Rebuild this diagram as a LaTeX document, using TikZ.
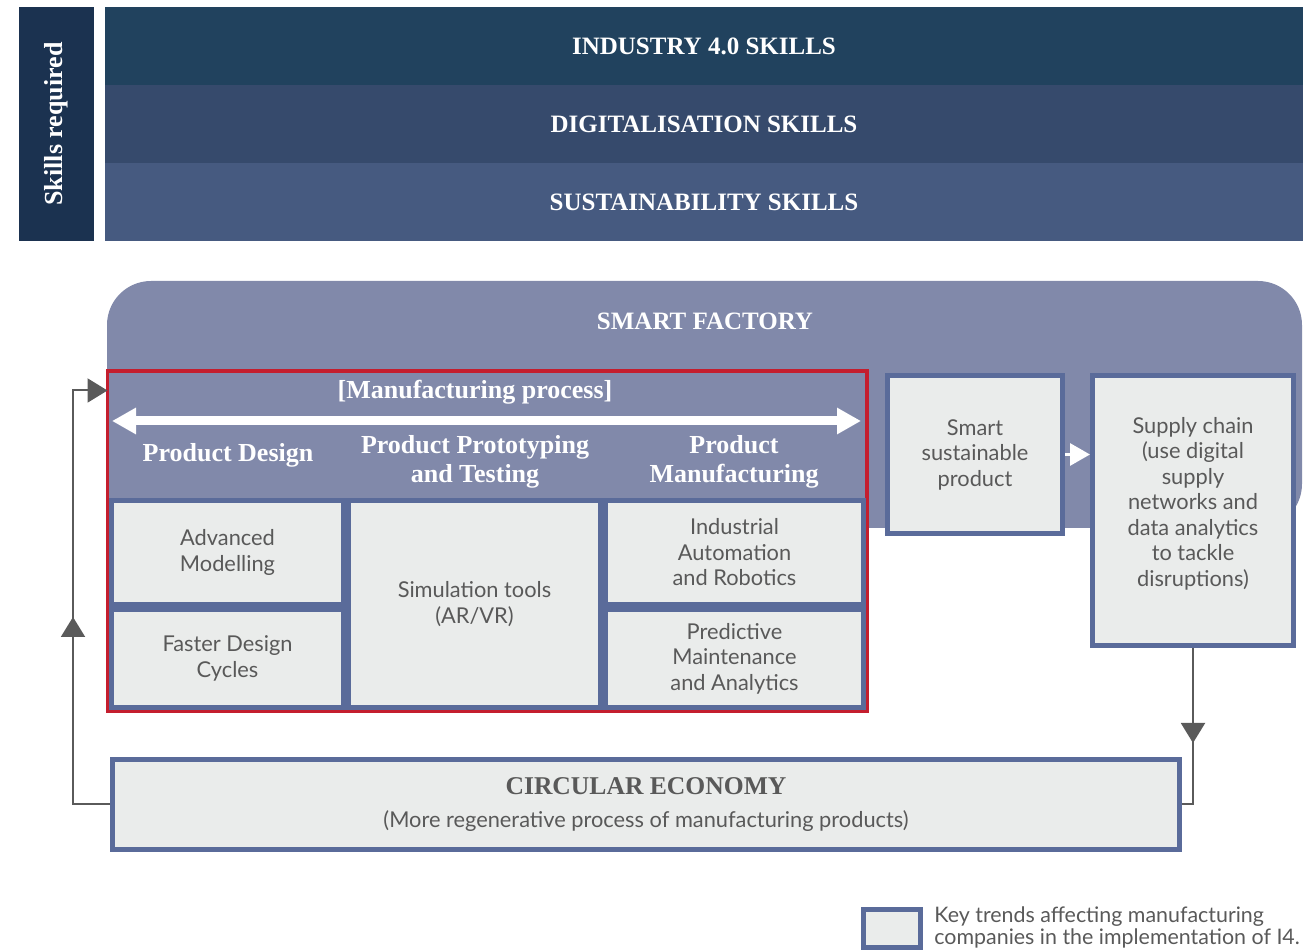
\documentclass[tikz,border=0pt]{standalone}
\usepackage{fontspec}
\setmainfont{Lato}
\newfontfamily\headfont{Liberation Serif}
\usetikzlibrary{arrows.meta}

\definecolor{navy}{HTML}{1B3250}
\definecolor{bandA}{HTML}{21425E}
\definecolor{bandB}{HTML}{364A6C}
\definecolor{bandC}{HTML}{465A80}
\definecolor{factory}{HTML}{8189AA}
\definecolor{cellblue}{HTML}{5A6B9A}
\definecolor{cellgray}{HTML}{EAECEB}
\definecolor{mred}{HTML}{C41E2E}
\definecolor{textgray}{HTML}{595959}
\definecolor{linkgray}{HTML}{5A5A5A}

\begin{document}
\begin{tikzpicture}[x=0.5pt,y=-0.5pt,
  band/.style={fill=#1, minimum width=599pt, minimum height=39pt, inner sep=0pt,
    text=white, font=\headfont\bfseries\fontsize{12.5}{15}\selectfont},
  cell/.style={draw=cellblue, line width=2.5pt, fill=cellgray, inner sep=0pt,
    align=center, text=textgray, font=\fontsize{10.9}{12.75}\selectfont},
  head/.style={text=white, align=center, inner sep=0pt,
    font=\headfont\bfseries\fontsize{13}{14.5}\selectfont},
  link/.style={draw=linkgray, line width=1pt},
  tip/.style={-{Triangle[length=10pt,width=12pt]}}
]
\useasboundingbox (0,0) rectangle (1303,951);

% skills
\node[fill=navy, rotate=90, minimum width=117pt, minimum height=37.5pt, inner sep=0pt,
  text=white, font=\headfont\bfseries\fontsize{13}{15}\selectfont] (skills) at (56.5,124) {Skills required};
\node[band=bandA] (ind) at (704,46) {INDUSTRY 4.0 SKILLS};
\node[band=bandB] (dig) at (704,124) {DIGITALISATION SKILLS};
\node[band=bandC] (sus) at (704,202) {SUSTAINABILITY SKILLS};

% smart factory
\fill[factory, rounded corners=22pt] (107,281) rectangle (1302,528);
\node[head, font=\headfont\bfseries\fontsize{12.5}{15}\selectfont] (sflbl) at (705,321) {SMART FACTORY};

% manufacturing process
\node[draw=mred, line width=1.75pt, fill=factory, minimum width=379.75pt, minimum height=170pt,
  inner sep=0pt] (mproc) at (487.25,541) {};
\node[head] (mplbl) at (475,392) {[Manufacturing process]};
\coordinate (flowL) at (112,421);
\coordinate (flowR) at (861,421);
\draw[white, line width=4.5pt, {Triangle[length=12pt,width=12.5pt]}-{Triangle[length=12pt,width=12.5pt]}] (flowL) -- (flowR);

\node[head] (hdesign) at (228,455) {Product Design};
\node[head] (hproto) at (475,462) {Product Prototyping\\and Testing};
\node[head] (hmanuf) at (734,462) {Product\\Manufacturing};

\node[cell, minimum width=116pt, minimum height=52pt] (adv) at (227.5,552.5) {Advanced\\Modelling};
\node[cell, minimum width=116pt, minimum height=49pt] (fast) at (227.5,658.5) {Faster Design\\Cycles};
\node[cell, minimum width=126pt, minimum height=103.5pt] (sim) at (474.5,604) {Simulation tools\\(AR/VR)};
\node[cell, minimum width=129pt, minimum height=52pt] (auto) at (734.5,552.5) {Industrial\\Automation\\and Robotics};
\node[cell, minimum width=129pt, minimum height=49pt] (pred) at (734.5,658.5) {Predictive\\Maintenance\\and Analytics};

% product and supply chain
\node[cell, minimum width=87.5pt, minimum height=79pt] (sp) at (975,454.5) {Smart\\sustainable\\product};
\node[cell, minimum width=100.5pt, minimum height=135pt] (sc) at (1193,510.5)
  {Supply chain\\(use digital\\supply\\networks and\\data analytics\\to tackle\\disruptions)\\[-4pt]};
\draw[white, line width=1.5pt, -{Triangle[length=10pt,width=11pt]}] (sp.east) -- (sp.east -| sc.west);

% circular economy
\node[cell, minimum width=533.5pt, minimum height=45pt] (circ) at (646,804.5) {};
\node[text=textgray, inner sep=0pt, font=\headfont\bfseries\fontsize{12.8}{15}\selectfont] (circtitle) at (646,786) {CIRCULAR ECONOMY};
\node[text=textgray, inner sep=0pt, font=\fontsize{10.9}{12.75}\selectfont] (circsub) at (646,821) {(More regenerative process of manufacturing products)};

% loops
\coordinate (lbend) at (73,804.5);
\coordinate (ltop) at (73,390.5);
\coordinate (lmid) at (73,617);
\coordinate (mpin) at (107.5,390.5);
\draw[link, tip] (circ.west) -- (lbend) -- (ltop) -- (mpin);
\draw[link, tip] (lbend) -- (lmid);

\coordinate (rbend) at (1193,804.5);
\coordinate (rmid) at (1193,743);
\draw[link] (sc.south) -- (rbend) -- (circ.east);
\draw[link, tip] (sc.south) -- (rmid);

% key
\node[cell, minimum width=28.5pt, minimum height=19pt] (key) at (892,928.5) {};
\node[anchor=west, align=left, inner sep=0pt, text=textgray, font=\fontsize{10.7}{11}\selectfont] (keytxt) at (934,927)
  {Key trends affecting manufacturing\\companies in the implementation of I4.};

\end{tikzpicture}
\end{document}
